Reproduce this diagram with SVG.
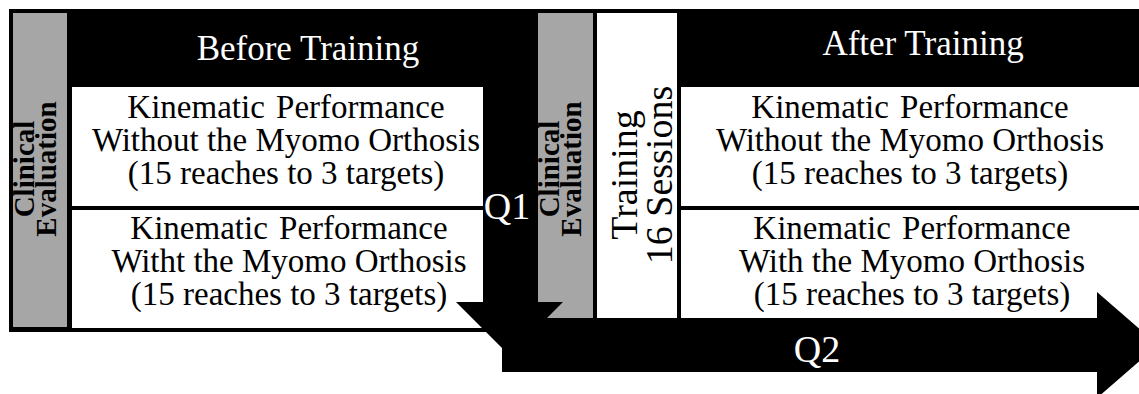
<svg xmlns="http://www.w3.org/2000/svg" width="1139" height="394" viewBox="0 0 1139 394">
<style>
.bg{fill:#000}
.gray{fill:#a6a6a6}
.box{fill:#fff}
.t{font-family:"Liberation Serif","Times New Roman",serif;text-anchor:middle}
.body{font-size:33px;fill:#000}
.head{font-size:35px;fill:#fff}
.ce{font-size:29px;font-weight:bold;fill:#000}
.tr{font-size:38px;fill:#000}
.q{font-size:38px;fill:#fff}
.arrow{fill:#000}
</style>
<rect width="1139" height="394" fill="#fff"/>
<!-- black frames -->
<rect class="bg" x="9" y="9" width="529" height="323"/>
<rect class="bg" x="538" y="9" width="601" height="309"/>

<g id="clinical-eval-before">
<rect class="gray" x="13" y="13" width="54" height="314"/>
<text class="t ce" transform="translate(34,169) rotate(-90)">Clinical</text>
<text class="t ce" transform="translate(56,169) rotate(-90)">Evaluation</text>
</g>

<g id="before-training">
<text class="t head" x="308" y="60">Before Training</text>
</g>

<g id="kin-without-before">
<rect class="box" x="72" y="87" width="411" height="119"/>
<text class="t body" x="286" y="118" word-spacing="3">Kinematic Performance</text>
<text class="t body" x="286" y="151">Without the Myomo Orthosis</text>
<text class="t body" x="286" y="184">(15 reaches to 3 targets)</text>
</g>

<g id="kin-with-before">
<rect class="box" x="72" y="210" width="411" height="118"/>
<text class="t body" x="289" y="239" word-spacing="3">Kinematic Performance</text>
<text class="t body" x="289" y="272">Witht the Myomo Orthosis</text>
<text class="t body" x="289" y="305">(15 reaches to 3 targets)</text>
</g>

<g id="clinical-eval-after">
<rect class="gray" x="538" y="13" width="55" height="305"/>
<text class="t ce" transform="translate(559,169) rotate(-90)">Clinical</text>
<text class="t ce" transform="translate(581,169) rotate(-90)">Evaluation</text>
</g>

<g id="training">
<rect class="box" x="597" y="13" width="80" height="305"/>
<text class="t tr" transform="translate(637,175) rotate(-90)">Training</text>
<text class="t tr" transform="translate(672,175) rotate(-90)">16 Sessions</text>
</g>

<g id="after-training">
<text class="t head" x="923" y="55">After Training</text>
</g>

<g id="kin-without-after">
<rect class="box" x="681" y="87" width="458" height="119"/>
<text class="t body" x="910" y="118" word-spacing="3">Kinematic Performance</text>
<text class="t body" x="910" y="151">Without the Myomo Orthosis</text>
<text class="t body" x="910" y="184">(15 reaches to 3 targets)</text>
</g>

<g id="kin-with-after">
<rect class="box" x="681" y="210" width="458" height="108"/>
<text class="t body" x="912" y="239" word-spacing="3">Kinematic Performance</text>
<text class="t body" x="912" y="272">With the Myomo Orthosis</text>
<text class="t body" x="912" y="305">(15 reaches to 3 targets)</text>
</g>

<g id="connectors">
<polygon id="q1-arrow" class="arrow" points="483,85 538,85 538,302 563,302 509.5,355.5 456,302 483,302"/>
<polygon id="q2-arrow" class="arrow" points="502,318 1097,318 1097,292 1158,345 1097,398 1097,372 502,372"/>
<text class="t q" x="507" y="219">Q1</text>
<text class="t q" x="817" y="362">Q2</text>
</g>
</svg>
